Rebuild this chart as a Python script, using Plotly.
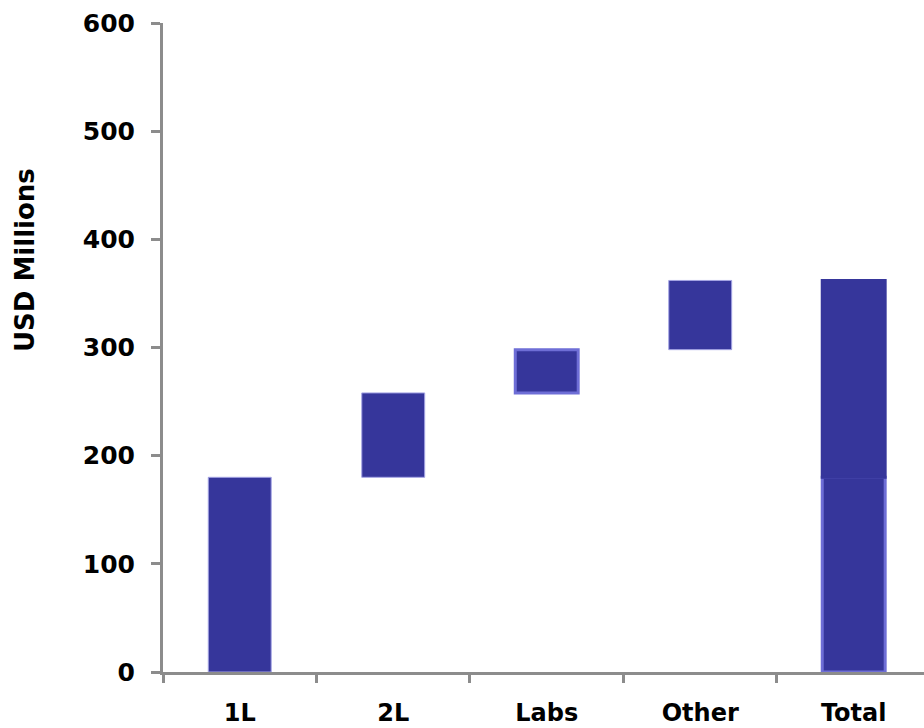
import plotly.graph_objects as go

# Waterfall of USD millions by segment
categories = ["1L", "2L", "Labs", "Other", "Total"]
step_values = [180, 78, 40, 64]          # 1L, 2L, Labs, Other increments
y_ticks = [0, 100, 200, 300, 400, 500, 600]
y_title = "USD Millions"

FILL = "#36369b"
EDGE_THIN = "#a4a4e4"
EDGE_THICK = "#6e6ed6"
AXIS = "#8c8c8c"
FONT = "DejaVu Sans"

# running bases for the floating steps
bases = []
running = 0
for v in step_values:
    bases.append(running)
    running += v
total = running

fig = go.Figure()

fig.add_trace(go.Bar(
    x=categories[:4], y=step_values, base=bases, width=0.41,
    marker=dict(color=FILL,
                line=dict(color=[EDGE_THIN, EDGE_THIN, EDGE_THICK, EDGE_THIN],
                          width=[1, 1, 3, 1])),
    showlegend=False,
))

# Total column: first step as the lower block, remaining steps stacked above
fig.add_trace(go.Bar(
    x=[categories[4]], y=[step_values[0]], base=[0], width=0.41,
    marker=dict(color=FILL, line=dict(color=EDGE_THICK, width=3)),
    showlegend=False,
))
fig.add_trace(go.Bar(
    x=[categories[4]], y=[total - step_values[0]], base=[step_values[0]], width=0.41,
    marker=dict(color=FILL, line=dict(color=FILL, width=3)),
    showlegend=False,
))

fig.update_layout(
    width=924, height=728,
    margin=dict(l=163, r=0, t=23, b=56),
    barmode="overlay",
    plot_bgcolor="white", paper_bgcolor="white",
    font=dict(family=FONT, color="black"),
)

fig.update_xaxes(
    type="category", categoryorder="array", categoryarray=categories,
    range=[-0.5, 4.458],
    showline=True, linecolor=AXIS, linewidth=3,
    ticks="outside", tickson="boundaries", ticklen=8, tickwidth=3, tickcolor=AXIS,
    tickfont=dict(family=FONT, size=24, color="black", weight="bold"),
    ticklabelstandoff=17,
    showgrid=False, zeroline=False,
)

fig.update_yaxes(
    range=[0, 600], tickvals=y_ticks,
    showline=True, linecolor=AXIS, linewidth=3,
    ticks="outside", ticklen=9, tickwidth=3, tickcolor=AXIS,
    tickfont=dict(family=FONT, size=25, color="black", weight="bold"),
    ticklabelstandoff=11,
    showgrid=False, zeroline=False,
)

# vertical axis title, placed left of the tick labels
fig.add_annotation(
    text=y_title, textangle=-90, showarrow=False,
    xref="paper", yref="paper",
    x=(25 - 163) / 761, y=(672 - 260) / 649,
    xanchor="center", yanchor="middle",
    font=dict(family=FONT, size=26, color="black", weight="bold"),
)

fig.write_html("out.html")
